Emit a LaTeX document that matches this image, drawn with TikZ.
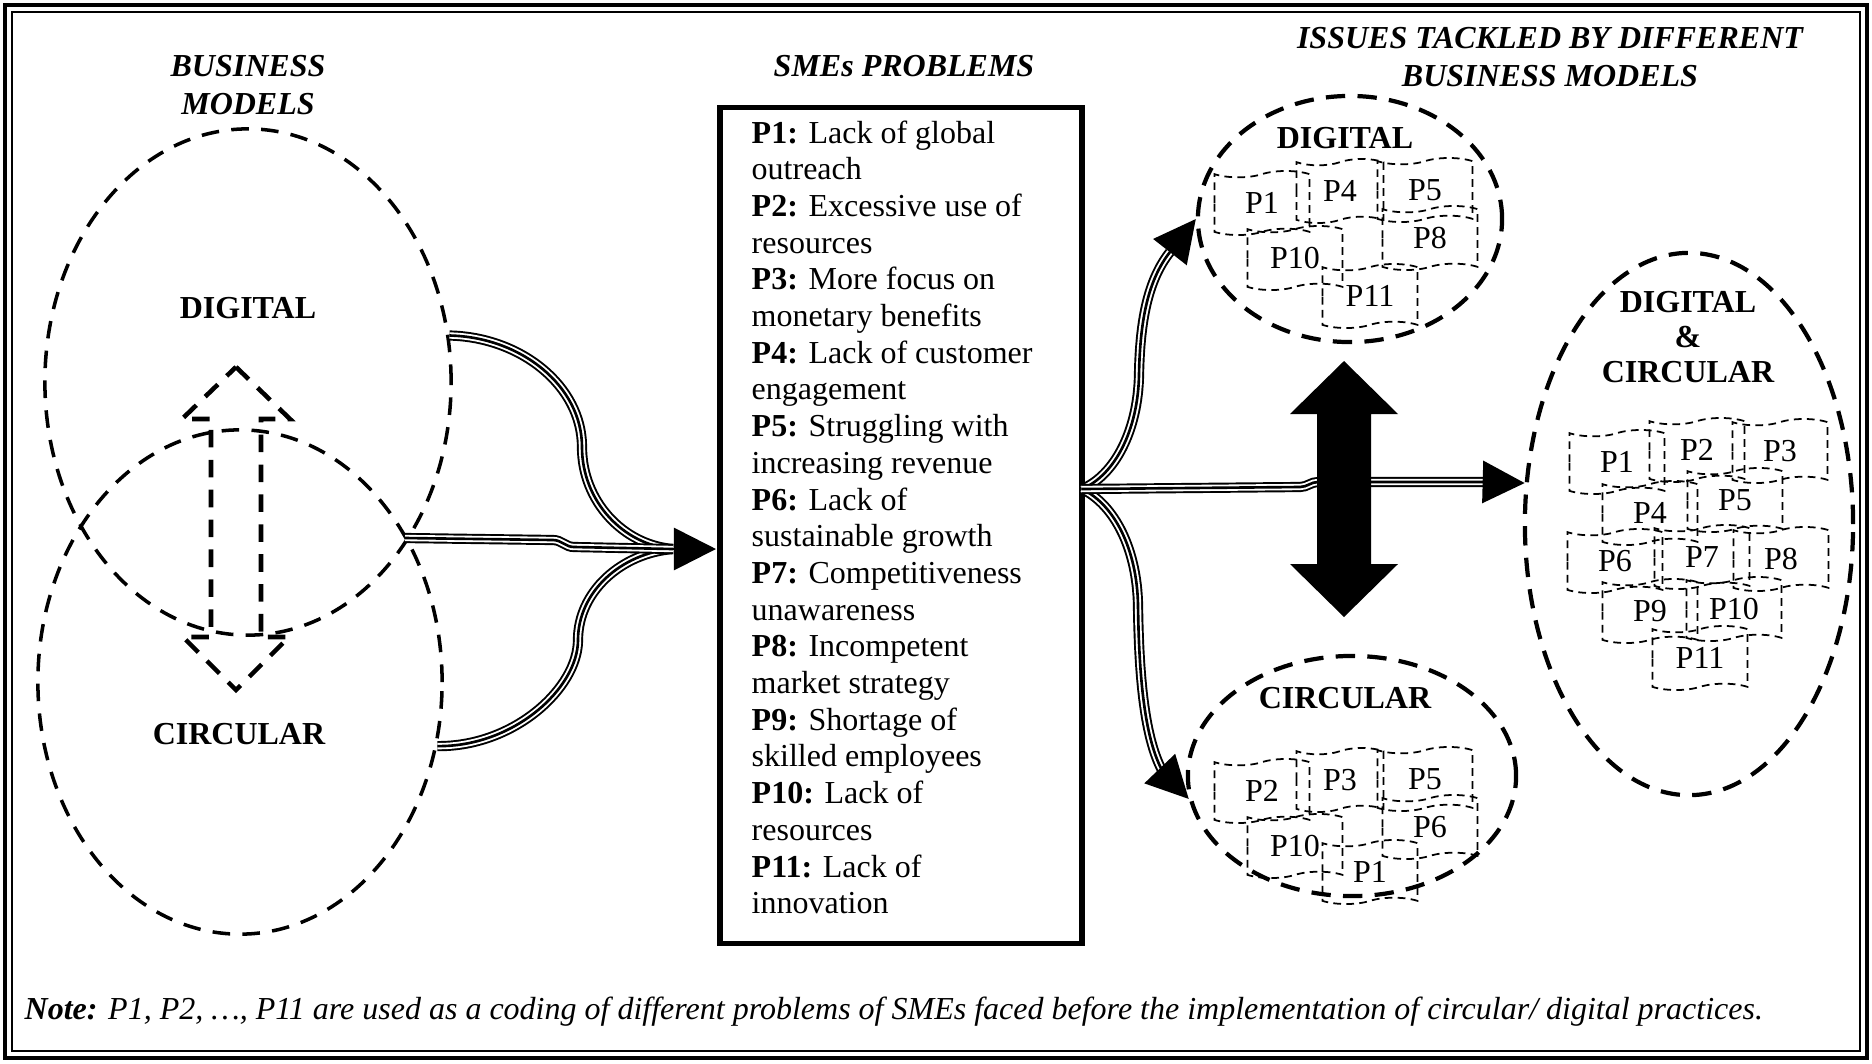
\documentclass[tikz,border=0pt]{standalone}
\usepackage{fontspec}
\setmainfont{Liberation Serif}
\usetikzlibrary{arrows.meta,shapes.geometric,shapes.symbols}

\begin{document}
\begin{tikzpicture}[x=0.01cm,y=-0.01cm,
	every node/.style={font=\fontsize{9.1}{10.4}\selectfont, inner sep=0pt},
	title/.style={font=\fontsize{9.1}{11}\selectfont\bfseries\itshape, align=center},
	model/.style={font=\fontsize{9.1}{10}\selectfont\bfseries, align=center},
	bigoval/.style={ellipse, draw, line width=1pt, dash pattern=on 5pt off 3.5pt},
	issueoval/.style={ellipse, draw, line width=1.2pt, dash pattern=on 5.5pt off 3.5pt},
	ptape/.style={tape, draw, line width=0.5pt, dash pattern=on 2.2pt off 1.5pt,
		minimum width=0.95cm, minimum height=0.64cm, tape bend height=1.8pt},
	probbox/.style={draw, line width=1.5pt},
	triple/.style={line width=0.75pt, preaction={draw, line width=2.9pt},
		preaction={draw, white, line width=1.8pt}},
	bigtip/.style={-{Triangle[length=0.42cm, width=0.42cm]}, line width=0.8pt},
	ptext/.style={anchor=base west}]

	\fill[white] (0,0) rectangle (1872,1063);
	\draw[line width=1.1pt] (5,5) rectangle (1867,1058);
	\draw[line width=0.6pt] (12,12) rectangle (1860,1051);

	% business models
	\node[title] (bmtitle) at (248,85) {BUSINESS\\MODELS};
	\node[bigoval, minimum width=4.06cm, minimum height=5.06cm] (digi) at (248,382) {};
	\node[bigoval, minimum width=4.04cm, minimum height=5.04cm] (circ) at (240,682) {};
	\node[model] (digilbl) at (248,308) {DIGITAL};
	\node[model] (circlbl) at (239,734) {CIRCULAR};
	\coordinate (meet) at (405,538);

	\draw[line width=1.3pt, dash pattern=on 5pt off 3.5pt]
		(236,367) -- (290,419) -- (261,419) -- (261,637) -- (289,637) -- (236,690)
		-- (183,637) -- (211,637) -- (211,419) -- (182,419) -- cycle;

	% problems
	\node[title] (smetitle) at (904,66) {SMEs PROBLEMS};
	\node[probbox, minimum width=3.62cm, minimum height=8.35cm] (probs) at (901,525.5) {};
	\foreach \n/\first/\second [count=\i from 0] in {
		1/Lack of global/outreach,
		2/Excessive use of/resources,
		3/More focus on/monetary benefits,
		4/Lack of customer/engagement,
		5/Struggling with/increasing revenue,
		6/Lack of/sustainable growth,
		7/Competitiveness/unawareness,
		8/Incompetent/market strategy,
		9/Shortage of/skilled employees,
		10/Lack of/resources,
		11/Lack of/innovation}
	{
		\node[ptext] (pa\n) at (751,143+73.4*\i) {\textbf{P\n:} \first};
		\node[ptext] (pb\n) at (751,179.7+73.4*\i) {\second};
	}

	% left connectors
	\coordinate (lend) at (673,549);
	\coordinate (ltip) at (716,549);
	\draw[triple] (digi.13) .. controls (521,337) and (582,386) .. (582,447)
		.. controls (582,501) and (623,545) .. (lend);
	\draw[triple] (circ.-18) .. controls (514,747) and (578,688) .. (578,640)
		.. controls (578,592) and (621,553) .. (lend);
	\draw[triple] (meet) -- (553,540) to[out=0,in=180] (574,547) -- (lend);
	\draw[bigtip] (lend) -- (ltip);

	% issues tackled
	\node[title] (issuetitle) at (1550,57) {ISSUES TACKLED BY DIFFERENT\\BUSINESS MODELS};

	\node[issueoval, minimum width=3.04cm, minimum height=2.46cm] (dtop) at (1350,219) {};
	\node[model] (dtoplbl) at (1345,138) {DIGITAL};
	\node[ptape] (d1) at (1262,203) {P1};
	\node[ptape, minimum width=0.87cm] (d4) at (1340,191) {P4};
	\node[ptape] (d5) at (1425,190) {P5};
	\node[ptape] (d8) at (1430,238) {P8};
	\node[ptape] (d10) at (1295,258) {P10};
	\node[ptape] (d11) at (1370,296) {P11};

	\node[issueoval, minimum width=3.28cm, minimum height=2.40cm] (cbot) at (1352,776) {};
	\node[model] (cbotlbl) at (1345,698) {CIRCULAR};
	\node[ptape] (c2) at (1262,791) {P2};
	\node[ptape, minimum width=0.87cm] (c3) at (1340,780) {P3};
	\node[ptape] (c5) at (1425,779) {P5};
	\node[ptape] (c6) at (1430,827) {P6};
	\node[ptape] (c10) at (1295,846) {P10};
	\node[ptape] (c1) at (1370,872) {P1};

	\node[issueoval, minimum width=3.28cm, minimum height=5.42cm] (both) at (1689,524) {};
	\node[model] (bothlbl) at (1688,337) {DIGITAL\\\&\\CIRCULAR};
	\node[ptape] (b1) at (1617,462) {P1};
	\node[ptape] (b2) at (1697,450) {P2};
	\node[ptape] (b3) at (1780,451) {P3};
	\node[ptape] (b4) at (1650,513) {P4};
	\node[ptape] (b5) at (1735,500) {P5};
	\node[ptape] (b6) at (1615,561) {P6};
	\node[ptape] (b7) at (1702,557) {P7};
	\node[ptape] (b8) at (1781,559) {P8};
	\node[ptape] (b9) at (1650,611) {P9};
	\node[ptape] (b10) at (1734,609) {P10};
	\node[ptape] (b11) at (1700,658) {P11};

	% right connectors
	\coordinate (rstart) at (1082,489);
	\coordinate (ubase) at (1170,252);
	\coordinate (dbase) at (1163,772);
	\coordinate (hbase) at (1485,482);
	\draw[triple] (rstart) .. controls (1115,475) and (1138,430) .. (1139,375)
		.. controls (1140,320) and (1148,280) .. (ubase);
	\draw[triple] (rstart) .. controls (1115,505) and (1137,550) .. (1138,605)
		.. controls (1139,680) and (1145,740) .. (dbase);
	\draw[triple] (rstart) -- (1300,487) to[out=0,in=180] (1318,482) -- (hbase);
	\draw[bigtip] (ubase) -- (dtop.west);
	\draw[bigtip] (dbase) -- (cbot.188);
	\draw[bigtip] (hbase) -- (both.166);

	\fill (1344,361) -- (1398,414) -- (1371,414) -- (1371,564) -- (1398,564) -- (1344,617)
		-- (1290,564) -- (1317,564) -- (1317,414) -- (1290,414) -- cycle;

	\node[anchor=west, font=\fontsize{9.1}{10.4}\selectfont\itshape] (note) at (24,1012)
		{\textbf{Note:} P1, P2, …, P11 are used as a coding of different problems of SMEs faced before the implementation of circular/ digital practices.};
\end{tikzpicture}
\end{document}
